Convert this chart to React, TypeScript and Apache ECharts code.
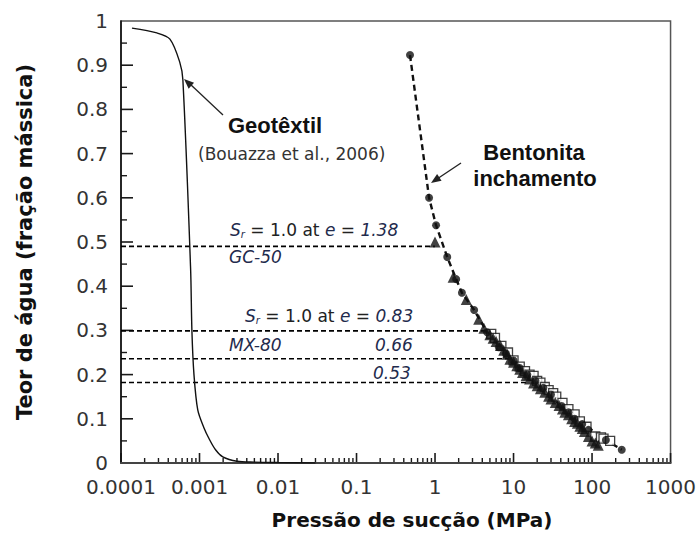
import React, { useEffect, useRef } from "react";
import * as echarts from "echarts";

// ---- Data ----
const xTickLabels = ["0.0001", "0.001", "0.01", "0.1", "1", "10", "100", "1000"];
const xMajorTicks = [0.0001, 0.001, 0.01, 0.1, 1, 10, 100, 1000];
const xMinorTicks = [
  0.0002, 0.0003, 0.0004, 0.0005, 0.0006, 0.0007, 0.0008, 0.0009,
  0.002, 0.003, 0.004, 0.005, 0.006, 0.007, 0.008, 0.009,
  0.02, 0.03, 0.04, 0.05, 0.06, 0.07, 0.08, 0.09,
  0.2, 0.3, 0.4, 0.5, 0.6, 0.7, 0.8, 0.9,
  2, 3, 4, 5, 6, 7, 8, 9,
  20, 30, 40, 50, 60, 70, 80, 90,
  200, 300, 400, 500, 600, 700, 800, 900,
];
const yMajorTicks = [0.1, 0.2, 0.3, 0.4, 0.5, 0.6, 0.7, 0.8, 0.9];
const yMinorTicks = [0.05, 0.15, 0.25, 0.35, 0.45, 0.55, 0.65, 0.75, 0.85, 0.95];

// Geotêxtil (Bouazza et al., 2006) – suction (MPa), water content
const geoX = [0.000138, 0.000286, 0.00042, 0.00056, 0.000614, 0.00077, 0.0008, 0.00085, 0.00095, 0.00113, 0.00135, 0.0016, 0.00198, 0.003, 0.005, 0.01, 0.03];
const geoY = [0.984, 0.973, 0.959, 0.907, 0.867, 0.44, 0.3, 0.2, 0.12, 0.081, 0.052, 0.03, 0.014, 0.004, 0.002, 0.001, 0.0];

// Bentonita inchamento – dashed fitted curve
const bentX = [0.48, 0.84, 1.03, 1.43, 1.86, 2.2, 3.15, 4.6, 9.6, 19.3, 41, 74, 150, 239];
const bentY = [0.923, 0.6, 0.538, 0.466, 0.416, 0.385, 0.346, 0.296, 0.233, 0.188, 0.127, 0.09, 0.052, 0.03];

// Measured points: filled circles
const circX = [0.48, 0.84, 1.03, 1.43, 1.86, 2.2, 3.15, 4.6, 6.5, 8, 10, 12, 15, 19, 24, 30, 41, 50, 60, 75, 90, 150, 239];
const circY = [0.923, 0.6, 0.538, 0.466, 0.416, 0.385, 0.346, 0.296, 0.262, 0.248, 0.232, 0.215, 0.2, 0.186, 0.17, 0.155, 0.129, 0.115, 0.1, 0.088, 0.075, 0.052, 0.03];
// filled triangles
const triX = [1.0, 1.7, 2.5, 3.6, 4.2, 5, 5.5, 6, 6.8, 7.5, 8.3, 9, 10, 11, 12, 13, 14.5, 16, 18, 20, 22, 25, 28, 30, 34, 38, 42, 45, 50, 55, 60, 65, 70, 75, 80, 90, 100, 110, 120];
const triY = [0.5, 0.42, 0.37, 0.325, 0.305, 0.29, 0.282, 0.275, 0.266, 0.255, 0.246, 0.235, 0.228, 0.22, 0.212, 0.205, 0.198, 0.19, 0.181, 0.175, 0.168, 0.16, 0.151, 0.145, 0.137, 0.13, 0.122, 0.115, 0.109, 0.1, 0.094, 0.09, 0.083, 0.078, 0.071, 0.06, 0.05, 0.045, 0.04];
// open squares
const sqX = [5.2, 5.8, 7, 8.5, 10, 12, 14, 16, 18, 20, 22, 25, 28, 32, 35, 42, 50, 60, 70, 85, 110, 130, 140, 170];
const sqY = [0.292, 0.283, 0.265, 0.25, 0.232, 0.218, 0.208, 0.2, 0.197, 0.186, 0.182, 0.172, 0.165, 0.158, 0.15, 0.136, 0.122, 0.11, 0.094, 0.082, 0.06, 0.058, 0.055, 0.05];

// Saturation reference lines (Sr = 1.0)
const refLevels = [0.49, 0.299, 0.236, 0.182];
const refEnds = [1.0, 4.5, 8.8, 15.7];

const zip = (xs: number[], ys: number[]) => xs.map((x, i) => [x, ys[i]]);

export default function App() {
  const ref = useRef<HTMLDivElement>(null);
  useEffect(() => {
    if (!ref.current) return;
    const chart = echarts.init(ref.current, null, { renderer: "svg" });
    const navy = "#1f2b4d";
    const dv = "DejaVu Sans";
    const ar = "Liberation Sans";
    const srRich = {
      i: { fontStyle: "italic", fill: navy, fontSize: 17, fontFamily: dv },
      t: { fill: "#222", fontSize: 17, fontFamily: dv },
      sub: { fontStyle: "italic", fill: navy, fontSize: 10, fontFamily: dv, padding: [9, 0, 0, 0] },
    } as any;

    const refSeries = refLevels.map((lv, i) => ({
      type: "line",
      data: [[0.0001, lv], [refEnds[i], lv]],
      showSymbol: false,
      lineStyle: { color: "#000", width: 1.6, type: [5, 3] },
      z: 2,
    }));

    const arrowHead = (tx: number, ty: number, fx: number, fy: number, len = 10, w = 4) => {
      const dx = tx - fx, dy = ty - fy;
      const L = Math.hypot(dx, dy);
      const ux = dx / L, uy = dy / L;
      const bx = tx - ux * len, by = ty - uy * len;
      return [[tx, ty], [bx - uy * w, by + ux * w], [bx + uy * w, by - ux * w]];
    };

    chart.setOption({
      animation: false,
      backgroundColor: "#fff",
      grid: { left: 121, right: 27, top: 21, bottom: 71, show: true, borderColor: "#555", borderWidth: 1.5 },
      xAxis: {
        type: "log",
        logBase: 10,
        min: 0.0001,
        max: 1000,
        axisLine: { show: true, lineStyle: { color: "#444", width: 2 } },
        axisTick: { show: false },
        splitLine: { show: false },
        axisLabel: {
          margin: 14,
          fontSize: 20,
          fontFamily: dv,
          color: "#333",
          formatter: (v: number) => xTickLabels[Math.round(Math.log10(v)) + 4],
        },
      },
      yAxis: {
        type: "value",
        min: 0,
        max: 1,
        interval: 0.1,
        axisLine: { show: true, lineStyle: { color: "#111", width: 1.6 } },
        axisTick: { show: false },
        splitLine: { show: false },
        axisLabel: { margin: 13, fontSize: 20, fontFamily: dv, color: "#333" },
      },
      series: [
        ...refSeries,
        {
          type: "line",
          data: zip(geoX, geoY),
          showSymbol: false,
          smooth: 0.3,
          lineStyle: { color: "#111", width: 1.4 },
          z: 3,
        },
        {
          type: "line",
          data: zip(bentX, bentY),
          showSymbol: false,
          lineStyle: { color: "#111", width: 2.4, type: [6, 4] },
          z: 3,
        },
        {
          type: "scatter",
          data: zip(sqX, sqY),
          symbol: "rect",
          symbolSize: 9,
          itemStyle: { color: "#fff", borderColor: "#111", borderWidth: 1.3 },
          z: 4,
        },
        {
          type: "scatter",
          data: zip(triX, triY),
          symbol: "triangle",
          symbolSize: 11,
          itemStyle: { color: "#111" },
          z: 5,
        },
        {
          type: "scatter",
          data: zip(circX, circY),
          symbol: "circle",
          symbolSize: 8,
          itemStyle: { color: "#111" },
          z: 6,
        },
      ],
    });

    // Axis ticks, placed through the chart's own scales
    const px = (x: number, y: number) =>
      chart.convertToPixel({ xAxisIndex: 0, yAxisIndex: 0 }, [x, y]) as any;
    const tickEls: any[] = [];
    const addLine = (x1: number, y1: number, x2: number, y2: number, w: number) =>
      tickEls.push({ type: "line", shape: { x1, y1, x2, y2 }, style: { stroke: "#1a1a1a", lineWidth: w } });
    xMajorTicks.forEach((v) => { const p = px(v, 0); addLine(p[0], p[1], p[0], p[1] - 10, 1.6); });
    xMinorTicks.forEach((v) => { const p = px(v, 0); addLine(p[0], p[1], p[0], p[1] - 5, 1.4); });
    yMajorTicks.forEach((v) => { const p = px(0.0001, v); addLine(p[0], p[1], p[0] + 12, p[1], 1.6); });
    yMinorTicks.forEach((v) => { const p = px(0.0001, v); addLine(p[0], p[1], p[0] + 6, p[1], 1.4); });

    const annotations: any[] = [
      {
        type: "text",
        x: 25,
        y: 242,
        rotation: Math.PI / 2,
        style: { text: "Teor de água (fração mássica)", font: `bold 21px "${dv}"`, fill: "#111", align: "center", verticalAlign: "middle" },
      },
      {
        type: "text",
        x: 412,
        y: 520,
        style: { text: "Pressão de sucção (MPa)", font: `bold 20px "${dv}"`, fill: "#111", align: "center", verticalAlign: "middle" },
      },
      {
        type: "text",
        x: 228,
        y: 125,
        style: { text: "Geotêxtil", font: `bold 22px "${ar}"`, fill: "#111", align: "left", verticalAlign: "middle" },
      },
      {
        type: "text",
        x: 198,
        y: 154,
        style: { text: "(Bouazza et al., 2006)", font: `17px "${dv}"`, fill: "#333", align: "left", verticalAlign: "middle" },
      },
      {
        type: "text",
        x: 534,
        y: 152,
        style: { text: "Bentonita", font: `bold 22px "${ar}"`, fill: "#111", align: "center", verticalAlign: "middle" },
      },
      {
        type: "text",
        x: 535,
        y: 178,
        style: { text: "inchamento", font: `bold 22px "${ar}"`, fill: "#111", align: "center", verticalAlign: "middle" },
      },
      {
        type: "text",
        x: 230,
        y: 230,
        style: { text: "{i|S}{sub|r}{t| = 1.0 at }{i|e}{t| = }{i|1.38}", rich: srRich, align: "left", verticalAlign: "middle" },
      },
      {
        type: "text",
        x: 229,
        y: 257,
        style: { text: "GC-50", font: `italic 17px "${dv}"`, fill: navy, align: "left", verticalAlign: "middle" },
      },
      {
        type: "text",
        x: 245,
        y: 316,
        style: { text: "{i|S}{sub|r}{t| = 1.0 at }{i|e}{t| = }{i|0.83}", rich: srRich, align: "left", verticalAlign: "middle" },
      },
      {
        type: "text",
        x: 229,
        y: 345,
        style: { text: "MX-80", font: `italic 17px "${dv}"`, fill: navy, align: "left", verticalAlign: "middle" },
      },
      {
        type: "text",
        x: 375,
        y: 345,
        style: { text: "0.66", font: `italic 17px "${dv}"`, fill: navy, align: "left", verticalAlign: "middle" },
      },
      {
        type: "text",
        x: 373,
        y: 373,
        style: { text: "0.53", font: `italic 17px "${dv}"`, fill: navy, align: "left", verticalAlign: "middle" },
      },
      {
        type: "line",
        shape: { x1: 223, y1: 115, x2: 190, y2: 84 },
        style: { stroke: "#222", lineWidth: 1.3 },
      },
      {
        type: "polygon",
        shape: { points: arrowHead(184, 79, 223, 115) },
        style: { fill: "#222" },
      },
      {
        type: "line",
        shape: { x1: 461, y1: 163, x2: 437, y2: 179 },
        style: { stroke: "#222", lineWidth: 1.3 },
      },
      {
        type: "polygon",
        shape: { points: arrowHead(431, 183, 461, 163) },
        style: { fill: "#222" },
      },
    ];

    chart.setOption({ graphic: [...tickEls, ...annotations] });
    return () => chart.dispose();
  }, []);
  return <div ref={ref} style={{ position: "absolute", left: 0, top: 0, width: 699, height: 534 }} />;
}
